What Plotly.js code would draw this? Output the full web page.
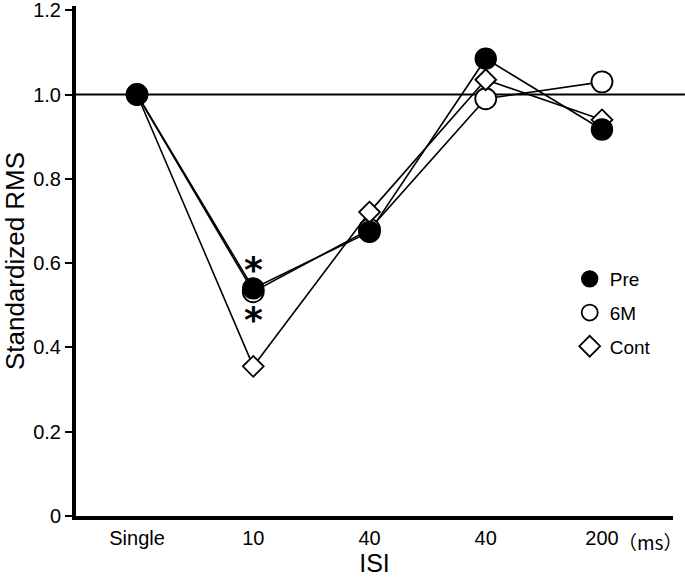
<!DOCTYPE html>
<html>
<head>
<meta charset="utf-8">
<script src="https://cdn.plot.ly/plotly-3.0.1.min.js"></script>
<style>html,body{margin:0;padding:0;background:#fff;}#chart{width:685px;height:579px;}</style>
</head>
<body>
<div id="chart"></div>
<script>
// ---- data ----
const categories = ["Single", "10", "40", "40", "200"];
const xPos = [0, 1, 2, 3, 4];
const preValues  = [1.0, 0.540, 0.674, 1.085, 0.917];
const m6Values   = [1.0, 0.532, 0.680, 0.990, 1.030];
const contValues = [1.0, 0.355, 0.721, 1.035, 0.940];
const yTickVals  = [0, 0.2, 0.4, 0.6, 0.8, 1.0, 1.2];
const yTickText  = ["0", "0.2", "0.4", "0.6", "0.8", "1.0", "1.2"];
const seriesNames = ["Pre", "6M", "Cont"];

const FONT = "Liberation Sans, Arial, sans-serif";
const lineStyle = {color: "#000", width: 1.6};

const lineTraces = [preValues, m6Values, contValues].map(v => ({
  x: xPos, y: v, type: "scatter", mode: "lines", line: lineStyle,
  showlegend: false, hoverinfo: "skip"
}));

const markerStyles = {
  "Pre":  {symbol: "circle", size: 21, color: "#000", line: {color: "#000", width: 1.4}},
  "6M":   {symbol: "circle", size: 21, color: "#fff", line: {color: "#000", width: 1.8}},
  "Cont": {symbol: "diamond", size: 16, color: "#fff", line: {color: "#000", width: 1.8}}
};

const markerTraces = [
  {x: xPos, y: m6Values, type: "scatter", mode: "markers", marker: markerStyles["6M"], showlegend: false},
  {x: xPos, y: contValues, type: "scatter", mode: "markers", marker: markerStyles["Cont"], showlegend: false},
  {x: xPos, y: preValues, type: "scatter", mode: "markers", marker: markerStyles["Pre"], showlegend: false}
];

const legendTraces = seriesNames.map((n, i) => ({
  x: [null], y: [null], type: "scatter", mode: "markers", name: n,
  legendgroup: "g" + i, marker: markerStyles[n], showlegend: true
}));

const layout = {
  width: 685, height: 579,
  margin: {l: 76, r: 12, t: 6, b: 63},
  paper_bgcolor: "#fff", plot_bgcolor: "#fff",
  font: {family: FONT, color: "#000", size: 19},
  xaxis: {
    range: [-0.525, 4.611],
    tickvals: xPos, ticktext: categories,
    showgrid: false, zeroline: false,
    showline: true, linecolor: "#000", linewidth: 4,
    ticks: "", ticklabelstandoff: 1,
    tickfont: {family: FONT, size: 20, color: "#000"},
    title: {text: "ISI", font: {family: FONT, size: 25, color: "#000"}, standoff: 7}
  },
  yaxis: {
    range: [0, 1.21],
    tickvals: yTickVals, ticktext: yTickText,
    showgrid: false, zeroline: false,
    showline: true, linecolor: "#000", linewidth: 4,
    ticks: "outside", ticklen: 7, tickwidth: 2, tickcolor: "#000",
    ticklabeloverflow: "allow",
    tickfont: {family: FONT, size: 20, color: "#000"},
    title: {text: "Standardized RMS", font: {family: FONT, size: 26, color: "#000"}, standoff: 13}
  },
  shapes: [{
    type: "line", xref: "paper", yref: "y", x0: 0, x1: 1.02, y0: 1.0, y1: 1.0,
    line: {color: "#000", width: 2}, layer: "below"
  }],
  annotations: [
    {x: 1, y: 0.540, xref: "x", yref: "y", text: "<b>*</b>", showarrow: false, yshift: 19,
     font: {family: "DejaVu Sans, sans-serif", size: 36, color: "#000"}},
    {x: 1, y: 0.532, xref: "x", yref: "y", text: "<b>*</b>", showarrow: false, yshift: -28,
     font: {family: "DejaVu Sans, sans-serif", size: 36, color: "#000"}},
    {x: 1.0195, y: 0, xref: "paper", yref: "paper", xanchor: "right", yanchor: "top",
     text: "（ms）", showarrow: false, yshift: -10, xshift: 0,
     font: {family: "Noto Sans CJK JP, sans-serif", size: 19, color: "#000"}}
  ],
  showlegend: true,
  legend: {
    x: 0.827, y: 0.502, xanchor: "left", yanchor: "top",
    font: {family: FONT, size: 19, color: "#000"},
    bgcolor: "rgba(0,0,0,0)", traceorder: "grouped", tracegroupgap: 6,
    itemwidth: 30
  }
};

Plotly.newPlot("chart", [...lineTraces, ...markerTraces, ...legendTraces], layout, {staticPlot: true, displayModeBar: false});
</script>
</body>
</html>
